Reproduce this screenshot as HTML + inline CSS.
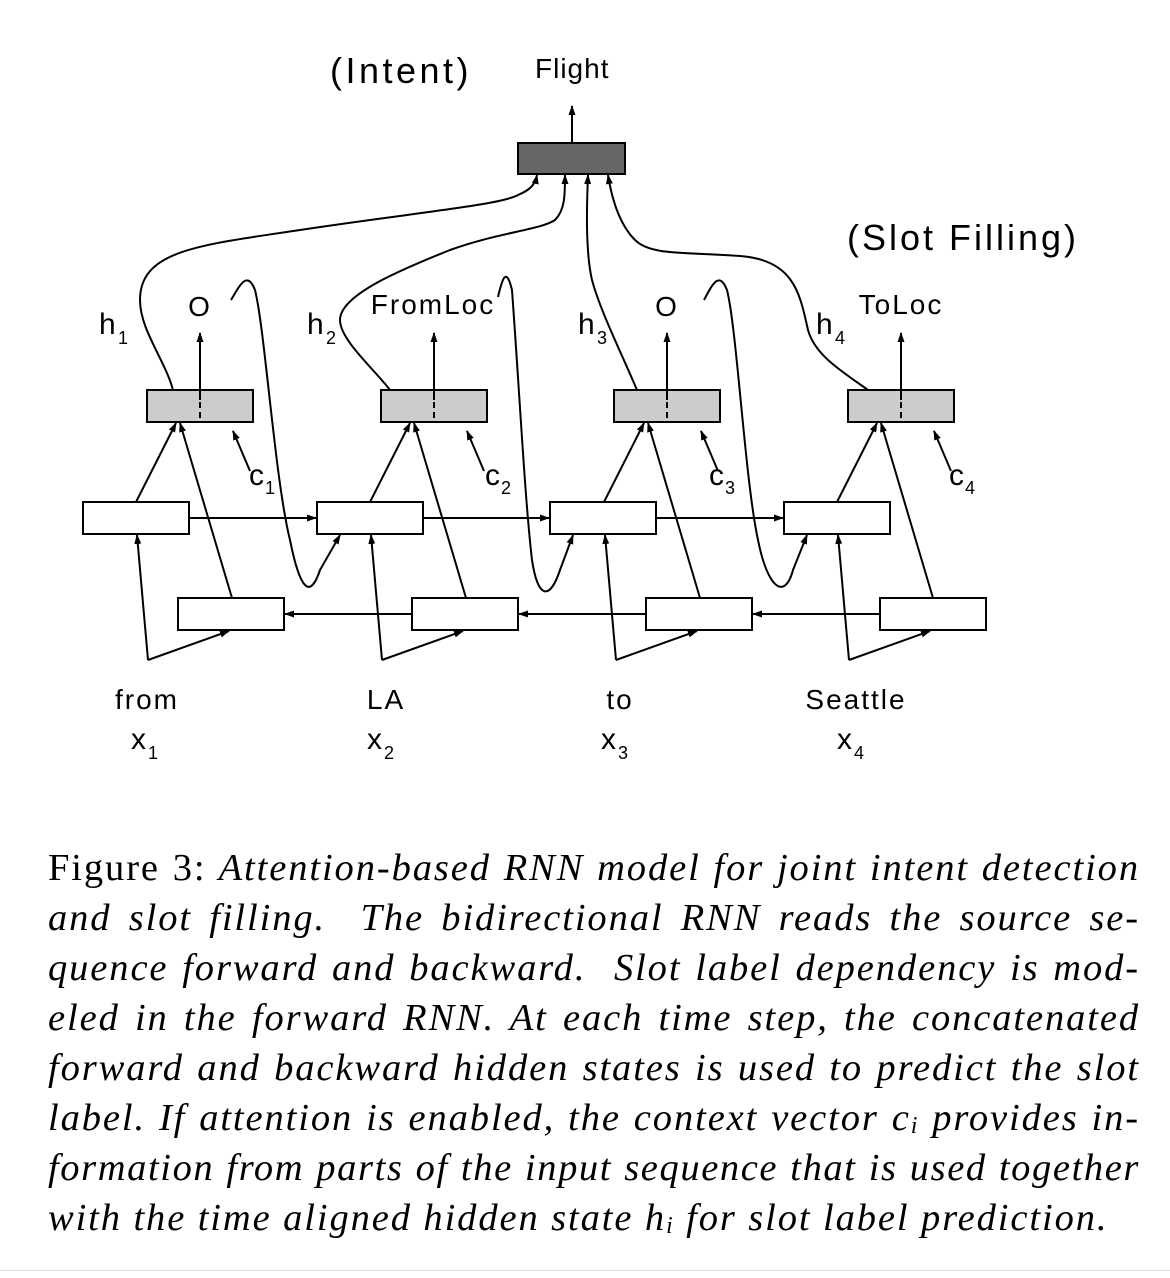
<!DOCTYPE html>
<html><head><meta charset="utf-8"><style>
body{margin:0;background:#fff;width:1170px;height:1278px;overflow:hidden;position:relative}
svg{position:absolute;left:0;top:0}
.cap{position:absolute;left:48px;width:1092px;font-family:"Liberation Serif",serif;font-size:38.5px;letter-spacing:1.9px;font-style:italic;text-align:justify;text-align-last:justify;white-space:nowrap;line-height:50px;color:#000}
.cap.last{text-align-last:left;width:auto}
.up{font-style:normal}
</style></head><body>
<svg width="1170" height="1278" viewBox="0 0 1170 1278">
<defs><marker id="a" markerWidth="10" markerHeight="10" refX="9" refY="5" orient="auto" markerUnits="userSpaceOnUse"><path d="M0,1.5 L10,5 L0,8.5 z" fill="#000"/></marker></defs>
<g font-family="Liberation Sans, sans-serif" fill="#000">
<text x="330" y="83" font-size="36" letter-spacing="3.5">(Intent)</text>
<text x="535" y="78" font-size="28" letter-spacing="1">Flight</text>
<text x="847" y="250" font-size="36" letter-spacing="3">(Slot Filling)</text>
<g font-size="28" text-anchor="middle" letter-spacing="2">
<text x="200" y="316">O</text><text x="433" y="314">FromLoc</text><text x="667" y="316">O</text><text x="901" y="314">ToLoc</text>
<text x="147" y="709">from</text><text x="386" y="709">LA</text><text x="620" y="709">to</text><text x="856" y="709">Seattle</text>
</g>
<g font-size="30">
<text x="99" y="334">h</text><text x="118" y="344" font-size="18">1</text>
<text x="307" y="334">h</text><text x="326" y="344" font-size="18">2</text>
<text x="578" y="334">h</text><text x="597" y="344" font-size="18">3</text>
<text x="816" y="334">h</text><text x="835" y="344" font-size="18">4</text>
<text x="249" y="485">c</text><text x="265" y="494" font-size="18">1</text>
<text x="485" y="485">c</text><text x="501" y="494" font-size="18">2</text>
<text x="709" y="485">c</text><text x="725" y="494" font-size="18">3</text>
<text x="949" y="485">c</text><text x="965" y="494" font-size="18">4</text>
<text x="131" y="749">x</text><text x="148" y="759" font-size="18">1</text>
<text x="367" y="749">x</text><text x="384" y="759" font-size="18">2</text>
<text x="601" y="749">x</text><text x="618" y="759" font-size="18">3</text>
<text x="837" y="749">x</text><text x="854" y="759" font-size="18">4</text>
</g>
</g>
<g stroke="#000" stroke-width="2" fill="none">
<rect x="518" y="143" width="107" height="31" fill="#666"/>
<line x1="572" y1="143" x2="572" y2="106" marker-end="url(#a)"/>
<rect x="147" y="390" width="106" height="32" fill="#ccc"/>
<rect x="381" y="390" width="106" height="32" fill="#ccc"/>
<rect x="614" y="390" width="106" height="32" fill="#ccc"/>
<rect x="848" y="390" width="106" height="32" fill="#ccc"/>
<g stroke-dasharray="6,4"><line x1="200" y1="392" x2="200" y2="422"/><line x1="434" y1="392" x2="434" y2="422"/><line x1="667" y1="392" x2="667" y2="422"/><line x1="901" y1="392" x2="901" y2="422"/></g>
<line x1="200" y1="400" x2="200" y2="333" marker-end="url(#a)"/>
<line x1="434" y1="400" x2="434" y2="333" marker-end="url(#a)"/>
<line x1="667" y1="400" x2="667" y2="333" marker-end="url(#a)"/>
<line x1="901" y1="400" x2="901" y2="333" marker-end="url(#a)"/>
<rect x="83" y="502" width="106" height="32" fill="#fff"/>
<rect x="317" y="502" width="106" height="32" fill="#fff"/>
<rect x="550" y="502" width="106" height="32" fill="#fff"/>
<rect x="784" y="502" width="106" height="32" fill="#fff"/>
<line x1="189" y1="518" x2="316" y2="518" marker-end="url(#a)"/>
<line x1="423" y1="518" x2="549" y2="518" marker-end="url(#a)"/>
<line x1="656" y1="518" x2="783" y2="518" marker-end="url(#a)"/>
<rect x="178" y="598" width="106" height="32" fill="#fff"/>
<rect x="412" y="598" width="106" height="32" fill="#fff"/>
<rect x="646" y="598" width="106" height="32" fill="#fff"/>
<rect x="880" y="598" width="106" height="32" fill="#fff"/>
<line x1="412" y1="614" x2="285" y2="614" marker-end="url(#a)"/>
<line x1="646" y1="614" x2="519" y2="614" marker-end="url(#a)"/>
<line x1="880" y1="614" x2="753" y2="614" marker-end="url(#a)"/>
<g id="col">
<path d="M148,660 L137,535" marker-end="url(#a)"/>
<path d="M148,660 L229,631" marker-end="url(#a)"/>
<path d="M136,502 L176,423" marker-end="url(#a)"/>
<path d="M232,598 L180,423" marker-end="url(#a)"/>
<path d="M250,471 L233,431" marker-end="url(#a)"/>
</g>
<use href="#col" transform="translate(234,0)"/>
<use href="#col" transform="translate(468,0)"/>
<use href="#col" transform="translate(701,0)"/>
<path d="M231,300 C240,285 247,270 255,290 C265,330 275,480 290,540 C300,590 310,600 320,570 L340,535" marker-end="url(#a)"/>
<path d="M498,297 C502,280 506,265 512,290 C520,400 525,500 532,560 C538,600 550,600 560,570 L573,535" marker-end="url(#a)"/>
<path d="M704,300 C712,285 719,270 727,290 C737,330 745,480 758,540 C768,590 785,600 793,570 L807,535" marker-end="url(#a)"/>
<path d="M173,390 C165,360 140,330 140,300 C140,250 200,245 300,230 C420,212 500,205 518,195 C530,190 535,185 537,175" marker-end="url(#a)"/>
<path d="M390,390 C375,370 340,340 340,320 C340,295 400,270 450,250 C500,232 540,230 555,220 C565,210 565,195 565,175" marker-end="url(#a)"/>
<path d="M637,390 C620,350 600,310 592,280 C585,250 587,200 588,175" marker-end="url(#a)"/>
<path d="M868,390 C840,370 815,355 808,330 C800,295 795,260 740,256 C680,252 650,255 635,240 C620,225 612,200 608,175" marker-end="url(#a)"/>
</g>
</svg>
<div class="cap" style="top:843px"><span class="up">Figure 3:</span> Attention-based RNN model for joint intent detection</div>
<div class="cap" style="top:893px">and slot filling. &nbsp;The bidirectional RNN reads the source se-</div>
<div class="cap" style="top:943px">quence forward and backward. &nbsp;Slot label dependency is mod-</div>
<div class="cap" style="top:993px">eled in the forward RNN. At each time step, the concatenated</div>
<div class="cap" style="top:1043px">forward and backward hidden states is used to predict the slot</div>
<div class="cap" style="top:1093px">label. If attention is enabled, the context vector c<sub style="font-size:24px;vertical-align:-3px">i</sub> provides in-</div>
<div class="cap" style="top:1143px;letter-spacing:1.6px">formation from parts of the input sequence that is used together</div>
<div class="cap last" style="top:1193px">with the time aligned hidden state h<sub style="font-size:24px;vertical-align:-3px">i</sub> for slot label prediction.</div>
<div style="position:absolute;left:0;top:1270px;width:1170px;height:1px;background:#ddd"></div>
</body></html>
